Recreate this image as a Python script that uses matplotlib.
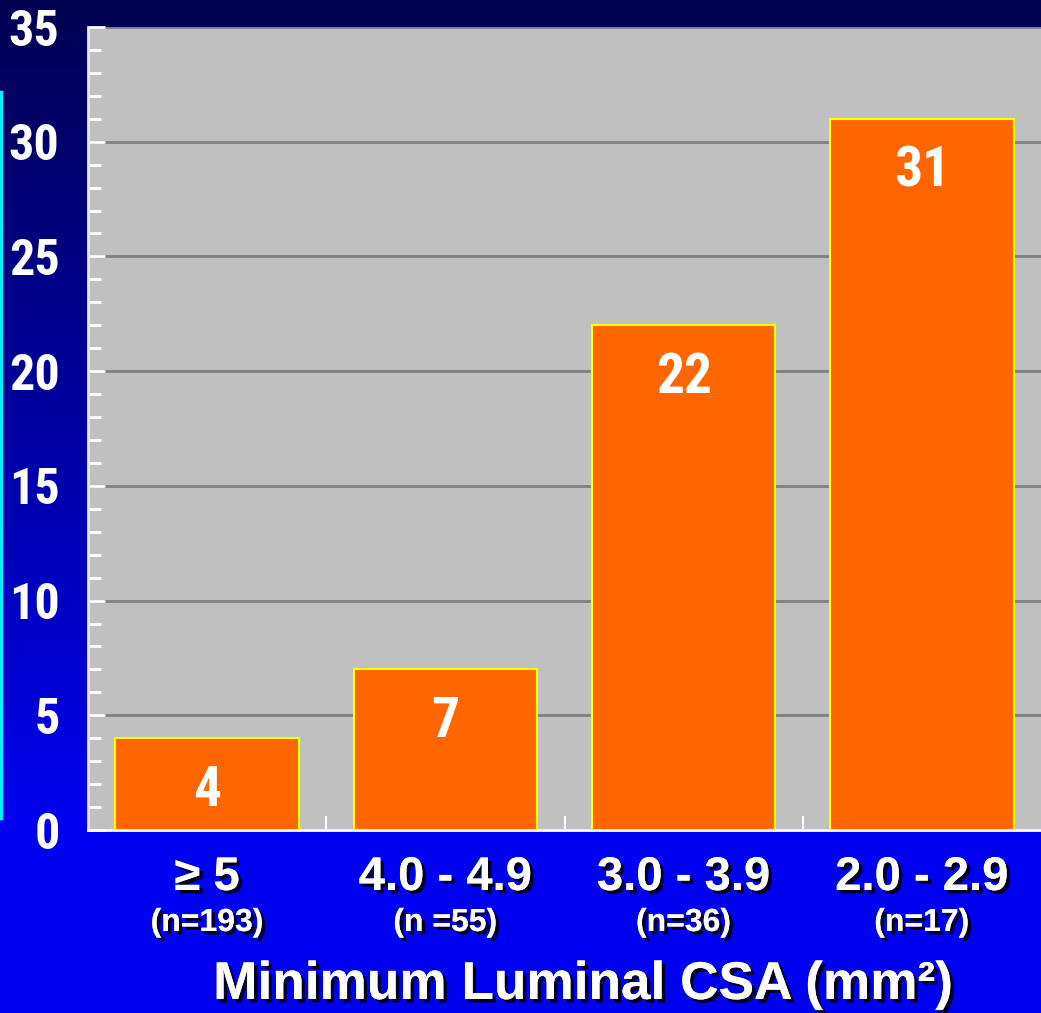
import numpy as np
import matplotlib
matplotlib.use("Agg")
import matplotlib.pyplot as plt
import matplotlib.patheffects as pe
from matplotlib import font_manager
from matplotlib.transforms import blended_transform_factory
from matplotlib.lines import Line2D

# Data
ranges = ["\u2265 5", "4.0 - 4.9", "3.0 - 3.9", "2.0 - 2.9"]
counts = ["(n=193)", "(n =55)", "(n=36)", "(n=17)"]
values = [4, 7, 22, 31]
y_ticks = [0, 5, 10, 15, 20, 25, 30, 35]
x_title = "Minimum Luminal CSA (mm\u00b2)"

# Pick a condensed face for the numerals if one is present
installed = {f.name for f in font_manager.fontManager.ttflist}
narrow_face = None
for cand in ["Liberation Sans Narrow", "DejaVu Sans Condensed",
             "Roboto Condensed", "Open Sans Condensed", "Noto Sans Condensed"]:
    if cand in installed:
        narrow_face = cand
        break
if narrow_face is None:
    narrow_face = "Roboto"
num_size = 36 if narrow_face != "Roboto" else 34

W, H, DPI = 1041, 1013, 100
fig = plt.figure(figsize=(W / DPI, H / DPI), dpi=DPI)

# Vertical gradient background: dark navy at top to bright blue lower down
bg = fig.add_axes([0, 0, 1, 1], zorder=-10)
rows = np.linspace(0, 1, 400)
top_b, bot_b = 0x50 / 255, 0xF0 / 255
frac = np.clip(rows / 0.82, 0, 1)
blue = top_b + (bot_b - top_b) * frac
img = np.zeros((400, 1, 3))
img[:, 0, 2] = blue
bg.imshow(img, aspect="auto", extent=[0, 1, 0, 1], origin="upper")
bg.set_xlim(0, 1)
bg.set_ylim(0, 1)
bg.axis("off")

# Thin cyan accent line on the left edge
fig.add_artist(Line2D([0.0012, 0.0012], [1 - 92 / H, 1 - 818 / H],
                      transform=fig.transFigure, color="#00F0FF", lw=2.5))

left, right = 88 / W, 1.0
bottom, top = 1 - 830 / H, 1 - 27 / H
ax = fig.add_axes([left, bottom, right - left, top - bottom])
ax.set_facecolor("#C0C0C0")

x = np.arange(len(values))
ax.bar(x, values, width=0.77, color="#FF6600", edgecolor="#FFFF00",
       linewidth=1.5, zorder=3)

ax.set_xlim(-0.5, 3.5)
ax.set_ylim(0, 35)

# Gridlines at major y ticks
ax.set_yticks(y_ticks)
ax.set_yticks(np.arange(0, 36, 1), minor=True)
ax.yaxis.grid(True, which="major", color="#808080", lw=2, zorder=1)
ax.set_axisbelow(True)

ax.tick_params(axis="y", which="major", direction="in", length=12, width=2,
               color="white", pad=20.5, labelcolor="white")
ax.tick_params(axis="y", which="minor", direction="in", length=9, width=2,
               color="white")
for lbl in ax.get_yticklabels():
    lbl.set_fontfamily(narrow_face)
    lbl.set_fontweight("bold")
    lbl.set_fontsize(num_size)

ax.set_xticks([])
ax.set_xticks([0.5, 1.5, 2.5], minor=True)
ax.tick_params(axis="x", which="minor", direction="in", length=10, width=1.5,
               color="white", labelbottom=False)

for s in ["top", "right"]:
    ax.spines[s].set_visible(False)
ax.spines["left"].set_color("#E8E8E8")
ax.spines["left"].set_linewidth(2)
ax.spines["bottom"].set_color("white")
ax.spines["bottom"].set_linewidth(2)

# Value labels inside bars
for xi, v in zip(x, values):
    ax.annotate(str(v), (xi, v), xytext=(0, -19), textcoords="offset points",
                ha="center", va="top", color="white", fontsize=num_size + 4,
                fontweight="bold", fontfamily=narrow_face, zorder=4)

# Category labels below the axis, with drop shadow
shadow = [pe.withSimplePatchShadow(offset=(2.5, -2.5), shadow_rgbFace="black",
                                   alpha=0.85), pe.Normal()]
tr = blended_transform_factory(ax.transData, fig.transFigure)
for xi, r, c in zip(x, ranges, counts):
    ax.text(xi, 1 - 878 / H, r, transform=tr, ha="center", va="center",
            color="white", fontsize=34, fontweight="bold",
            fontfamily="Liberation Sans", path_effects=shadow)
    ax.text(xi, 1 - 923 / H, c, transform=tr, ha="center", va="center",
            color="white", fontsize=23, fontweight="bold",
            fontfamily="Liberation Sans", path_effects=shadow)

fig.text(583 / W, 1 - 985 / H, x_title, ha="center", va="center",
         color="white", fontsize=38.3, fontweight="bold",
         fontfamily="Liberation Sans", path_effects=shadow)

fig.savefig("out.png", dpi=DPI)
